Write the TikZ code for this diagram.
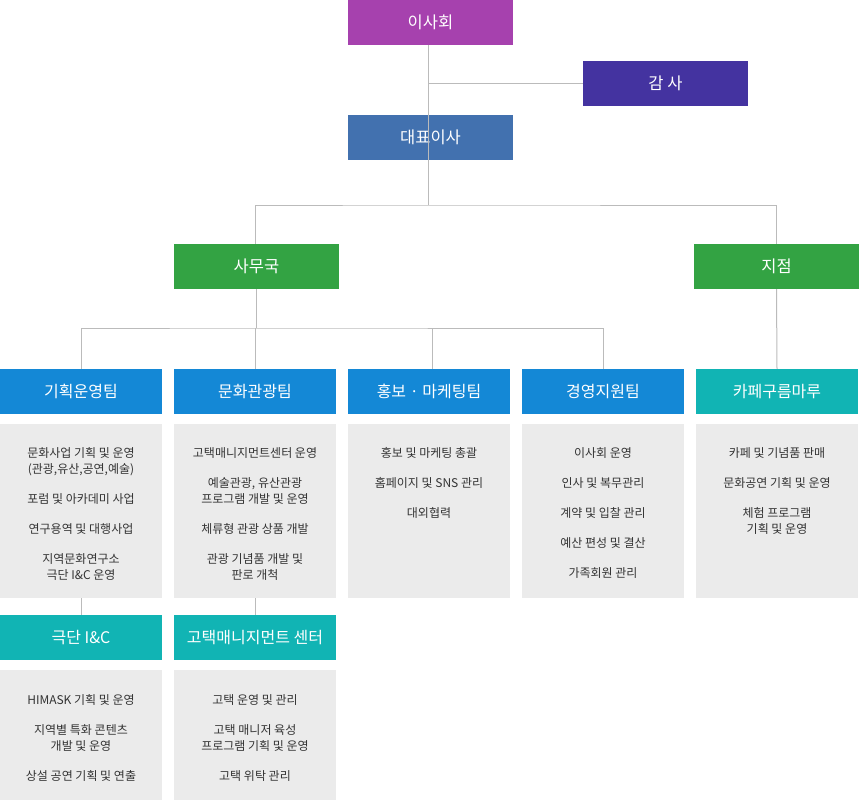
\documentclass[tikz,border=0pt]{standalone}
\usepackage{fontspec}
\setmainfont{Noto Sans CJK KR}
\newfontfamily\kr{Noto Sans CJK KR}
\definecolor{cboard}{HTML}{A641AE}
\definecolor{caudit}{HTML}{4433A0}
\definecolor{cceo}{HTML}{4271AF}
\definecolor{cgreen}{HTML}{33A343}
\definecolor{cblue}{HTML}{1488D6}
\definecolor{cteal}{HTML}{11B4B4}
\definecolor{cgrey}{HTML}{EBEBEB}
\definecolor{cline}{HTML}{BBBBBB}
\definecolor{ctext}{HTML}{333333}
\tikzset{
  hdr/.style={minimum width=165pt, minimum height=45pt, inner sep=0pt, text=white,
    font=\kr\fontsize{16.5}{19}\selectfont},
  team/.style={hdr, minimum width=162pt, font=\kr\fontsize{16}{19}\selectfont},
  descbox/.style={fill=cgrey, minimum width=162pt, inner sep=0pt},
  desctext/.style={anchor=north, inner sep=0pt, align=center, text=ctext,
    font=\kr\fontsize{12}{16}\selectfont},
  conn/.style={draw=cline, line width=1pt},
}
\begin{document}
\begin{tikzpicture}[x=1pt,y=-1pt]
\useasboundingbox (0,0) rectangle (860,800);
% top
\node[hdr, fill=cboard] (board) at (430.5,22.5) {이사회};
\node[hdr, fill=caudit] (audit) at (665.5,83.5) {감 사};
\node[hdr, fill=cceo] (ceo) at (430.5,137.5) {대표이사};
\node[hdr, fill=cgreen] (office) at (256.5,266.5) {사무국};
\node[hdr, fill=cgreen] (branch) at (776.5,266.5) {지점};
% teams
\node[team, fill=cblue] (t1) at (81,391.5) {기획운영팀};
\node[team, fill=cblue] (t2) at (255,391.5) {문화관광팀};
\node[team, fill=cblue] (t3) at (429,391.5) {홍보 · 마케팅팀};
\node[team, fill=cblue] (t4) at (603,391.5) {경영지원팀};
\node[team, fill=cteal] (t5) at (777,391.5) {카페구름마루};
% desc boxes
\node[descbox, minimum height=174pt] (d1) at (81,511) {};
\node[descbox, minimum height=174pt] (d2) at (255,511) {};
\node[descbox, minimum height=174pt] (d3) at (429,511) {};
\node[descbox, minimum height=174pt] (d4) at (603,511) {};
\node[descbox, minimum height=174pt] (d5) at (777,511) {};
% sub teams
\node[team, fill=cteal] (s1) at (81,637.5) {극단 I\&C};
\node[team, fill=cteal] (s2) at (255,637.5) {고택매니지먼트 센터};
\node[descbox, minimum height=130pt] (e1) at (81,735) {};
\node[descbox, minimum height=130pt] (e2) at (255,735) {};
% texts
\node[desctext] (d1t) at (81,447.5) {문화사업 기획 및 운영\\(관광,유산,공연,예술)\\[14pt]포럼 및 아카데미 사업\\[14pt]연구용역 및 대행사업\\[14pt]지역문화연구소\\극단 I\&C 운영};
\node[desctext] (d2t) at (255,447.5) {고택매니지먼트센터 운영\\[14pt]예술관광, 유산관광\\프로그램 개발 및 운영\\[14pt]체류형 관광 상품 개발\\[14pt]관광 기념품 개발 및\\판로 개척};
\node[desctext] (d3t) at (429,447.5) {홍보 및 마케팅 총괄\\[14pt]홈페이지 및 SNS 관리\\[14pt]대외협력};
\node[desctext] (d4t) at (603,447.5) {이사회 운영\\[14pt]인사 및 복무관리\\[14pt]계약 및 입찰 관리\\[14pt]예산 편성 및 결산\\[14pt]가족회원 관리};
\node[desctext] (d5t) at (777,447.5) {카페 및 기념품 판매\\[14pt]문화공연 기획 및 운영\\[14pt]체험 프로그램\\기획 및 운영};
\node[desctext] (e1t) at (81,694.5) {HIMASK 기획 및 운영\\[14pt]지역별 특화 콘텐츠\\개발 및 운영\\[14pt]상설 공연 기획 및 연출};
\node[desctext] (e2t) at (255,694.5) {고택 운영 및 관리\\[14pt]고택 매니저 육성\\프로그램 기획 및 운영\\[14pt]고택 위탁 관리};
% connectors
\coordinate (split1) at (428,205);
\coordinate (split2) at (256,328);
\coordinate (auditj) at (428,83.5);
\draw[conn] (board.south -| split1) -- (split1);
\draw[conn] (auditj) -- (audit.west);
\draw[conn] (office.north -| t2.north) |- (split1) -| (branch.north);
\draw[conn] (split2) -- (split2 |- office.south);
\draw[conn] (t1.north) |- (split2) -| (t4.north);
\draw[conn] (t2.north) -- (t2.north |- split2);
\coordinate (t3j) at (432,369);
\draw[conn] (t3j) -- (t3j |- split2);
\draw[conn] (branch.south) -- (t5.north);
\draw[conn] (d1.south) -- (s1.north);
\draw[conn] (d2.south) -- (s2.north);
\end{tikzpicture}
\end{document}
